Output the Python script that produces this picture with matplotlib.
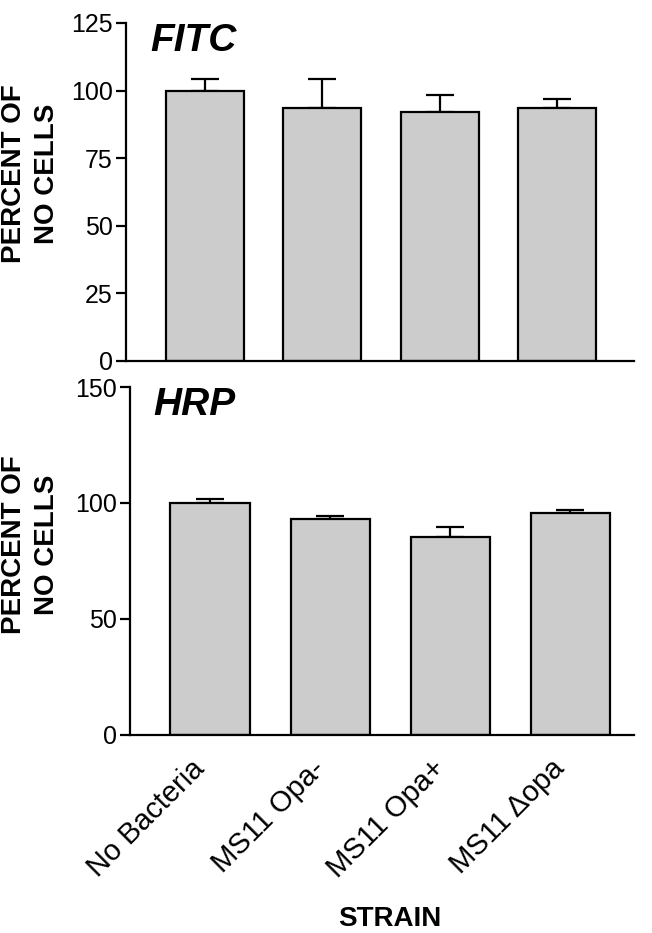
import matplotlib
matplotlib.use("Agg")
import matplotlib.pyplot as plt
import numpy as np

plt.rcParams['font.family'] = ['Liberation Sans', 'DejaVu Sans']

strains = ["No Bacteria", "MS11 Opa-", "MS11 Opa+", "MS11 \u0394opa"]
fitc_mean = [100.0, 93.5, 92.0, 93.5]
fitc_err = [4.2, 10.7, 6.4, 3.5]
hrp_mean = [100.0, 93.0, 85.3, 95.6]
hrp_err = [1.9, 1.3, 4.4, 1.3]
fitc_ticks = [0, 25, 50, 75, 100, 125]
hrp_ticks = [0, 50, 100, 150]

W, H = 652, 933
fig = plt.figure(figsize=(W / 100, H / 100), dpi=100)

def px_axes(x0, x1, y0, y1):
    return fig.add_axes([x0 / W, 1 - y1 / H, (x1 - x0) / W, (y1 - y0) / H])

ax1 = px_axes(126, 634, 23, 361)
ax2 = px_axes(130, 634, 387, 735)

x = np.arange(len(strains))

def style(ax, means, errs, ticks, ymax, title, xlim):
    ax.bar(x, means, width=0.665, color='#cccccc', edgecolor='black', linewidth=1.6, zorder=2)
    ax.errorbar(x, means, yerr=[np.zeros(len(errs)), errs], fmt='none', ecolor='black',
                elinewidth=1.6, capsize=10, capthick=1.6, zorder=1)
    ax.set_ylim(0, ymax)
    ax.set_xlim(*xlim)
    ax.set_yticks(ticks)
    ax.set_yticklabels([str(t) for t in ticks], fontsize=18)
    for s in ['top', 'right']:
        ax.spines[s].set_visible(False)
    for s in ['left', 'bottom']:
        ax.spines[s].set_linewidth(1.6)
    ax.tick_params(axis='y', length=7, width=1.6, pad=2.5, direction='out')
    ax.tick_params(axis='x', length=0)
    ax.text(0.047, 1.0, title, transform=ax.transAxes, fontsize=28, fontweight='bold',
            fontstyle='italic', ha='left', va='top')

style(ax1, fitc_mean, fitc_err, fitc_ticks, 125, "FITC", (-0.673, 3.656))
style(ax2, hrp_mean, hrp_err, hrp_ticks, 150, "HRP", (-0.67, 3.53))

ax1.set_xticks(x)
ax1.set_xticklabels([])
ax2.set_xticks(x)
ax2.set_xticklabels(strains, rotation=45, fontsize=21, ha='right', va='top')
ax2.tick_params(axis='x', pad=14)

def ylab(xc1, xc2, yc):
    fig.text(xc1 / W, 1 - yc / H, "PERCENT OF", rotation=90, ha='center', va='baseline',
             rotation_mode='anchor', fontsize=20, fontweight='bold')
    fig.text(xc2 / W, 1 - yc / H, "NO CELLS", rotation=90, ha='center', va='baseline',
             rotation_mode='anchor', fontsize=20, fontweight='bold')

ylab(21, 54, 174)
ylab(21, 54, 545)
fig.text(390 / W, 1 - 926 / H, "STRAIN", ha='center', va='baseline', fontsize=20, fontweight='bold')

fig.savefig("out.png", dpi=100)
